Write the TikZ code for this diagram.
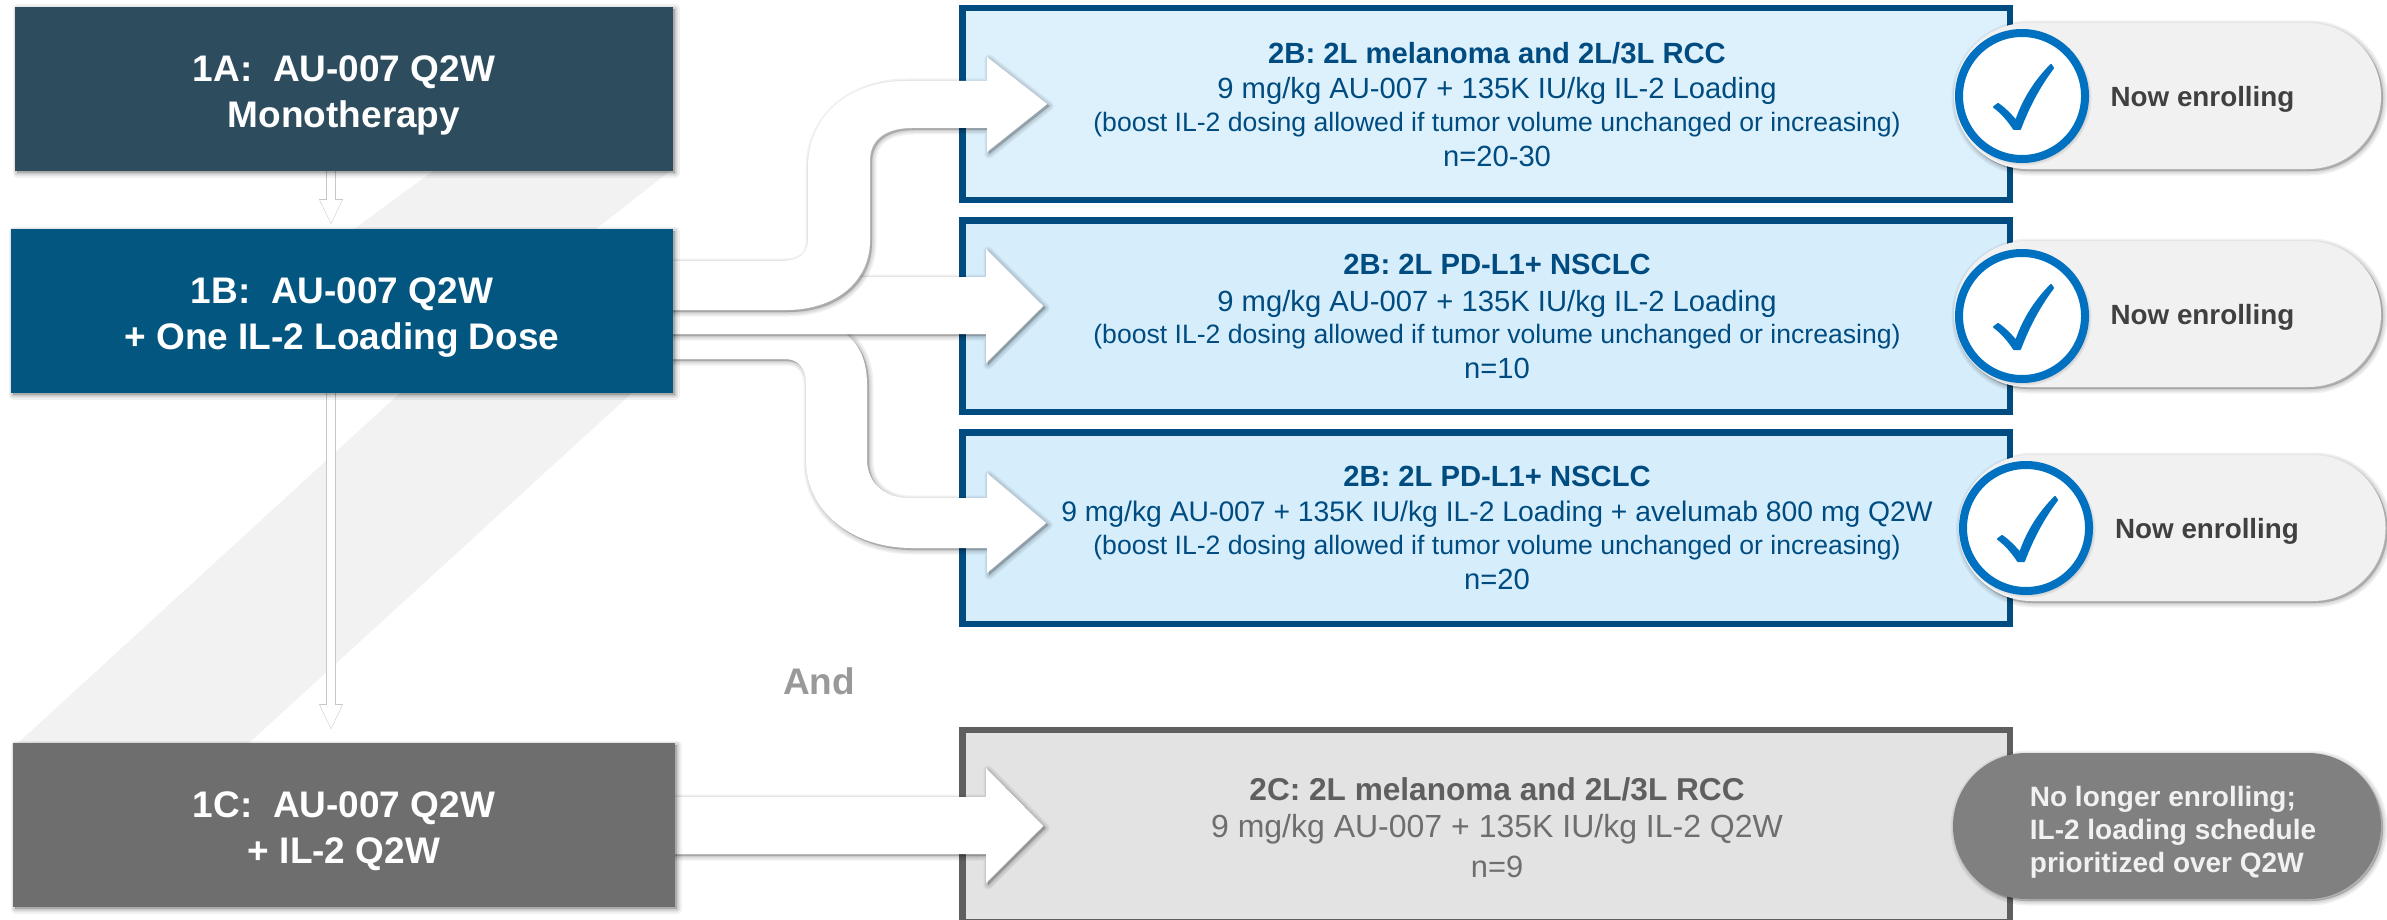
\documentclass[tikz,border=0pt]{standalone}
\usepackage{fontspec}
\setmainfont{Liberation Sans}
\usetikzlibrary{calc,arrows.meta,shapes.misc}
\definecolor{cA}{HTML}{2D4D5F}
\definecolor{cB}{HTML}{03567F}
\definecolor{cC}{HTML}{6E6E6E}
\definecolor{band}{HTML}{F2F2F2}
\definecolor{navy}{HTML}{004C80}
\definecolor{paleA}{HTML}{DDF1FD}
\definecolor{paleB}{HTML}{D6EEFC}
\definecolor{paleG}{HTML}{E3E3E3}
\definecolor{edgeG}{HTML}{5F5F5F}
\definecolor{pillG}{HTML}{F1F1F1}
\definecolor{pillD}{HTML}{808080}
\definecolor{tick}{HTML}{0070C0}
\definecolor{ink}{HTML}{404040}
\newcommand\fs[1]{\fontsize{#1}{17pt}\selectfont}
\newcommand\fl[2]{\fontsize{#1}{#2}\selectfont}
\newcommand\topfix[1]{\rule{0pt}{#1}}
\newcommand\botfix{\rule[-4pt]{0pt}{0pt}}
\tikzset{
  softlayer/.style={preaction={draw=black,fill=black,opacity=.055,line width=#1,line join=round,
     transform canvas={xshift=1pt,yshift=-1pt}}},
  softshadow/.style={softlayer=4.5pt,softlayer=3pt,softlayer=1.6pt,softlayer=.4pt},
  leftbox/.style={rectangle,minimum height=82pt,inner sep=0pt,outer sep=0pt,text=white,align=center,softshadow,
     font=\bfseries\fl{18.5}{23pt}},
  trialbox/.style={rectangle,draw=navy,line width=3.25pt,minimum width=523.75pt,inner sep=0pt,outer sep=0pt},
  greybox/.style={trialbox,draw=edgeG},
  trialtext/.style={inner sep=0pt,outer sep=0pt,align=center,text=navy,font=\fl{14.6}{17pt}},
  greytext/.style={trialtext,text=edgeG},
  blockarrow/.style={fill=white,softshadow},
  thinarrow/.style={draw=white,line width=3.6pt,-{Triangle[width=10pt,length=12pt]},shorten >=2pt},
  thinedge/.style={draw=black!22,line width=4.6pt,-{Triangle[width=11pt,length=13pt]},shorten >=1.5pt},
  pill/.style={rounded rectangle,minimum height=73pt,inner sep=0pt,outer sep=0pt,softshadow,align=left},
  okpill/.style={pill,fill=pillG,minimum width=213.5pt,text=ink,font=\bfseries\fl{13.9}{16.5pt}},
  donepill/.style={pill,fill=pillD,minimum width=214pt,text=pillG,font=\bfseries\fl{14}{16.5pt}},
  ring/.style={circle,draw=tick,fill=white,line width=4pt,minimum size=63pt,inner sep=0pt,outer sep=0pt,softshadow},
  tickmark/.style={fill=tick,draw=tick,line width=1pt,line join=round},
}
\begin{document}
\begin{tikzpicture}[x=0.5pt,y=-0.5pt]
\useasboundingbox (0,0) rectangle (2387,920);
% diagonal bands
\fill[band] (433,171) -- (670,171) -- (596,229) -- (354,229) -- cycle;
\fill[band] (400,393) -- (632,393) -- (249,743) -- (18,743) -- cycle;
% trial boxes
\node[trialbox,fill=paleA,minimum height=95.75pt] (r1) at (1486,104) {};
\node[trialbox,fill=paleB,minimum height=95.75pt] (r2) at (1486,316) {};
\node[trialbox,fill=paleB,minimum height=95.75pt] (r3) at (1486,528) {};
\node[greybox,fill=paleG,minimum height=96pt] (r4) at (1486,826) {};
\node[trialtext] (t1) at ($(r1.center)+(11,1)$) {%
  \fs{14.6}\textbf{2B: 2L melanoma and 2L/3L RCC}\\[.5pt]
  \fs{14.6}9 mg/kg AU-007 + 135K IU/kg IL-2 Loading\\[-.5pt]
  \fs{13.3}(boost IL-2 dosing allowed if tumor volume unchanged or increasing)\\[.5pt]
  \fs{14.6}n=20-30};
\node[trialtext] (t2) at ($(r2.center)+(11,0)$) {%
  \fs{14.6}\textbf{2B: 2L PD-L1+ NSCLC}\\[1.5pt]
  \fs{14.6}9 mg/kg AU-007 + 135K IU/kg IL-2 Loading\\[-1pt]
  \fs{13.3}(boost IL-2 dosing allowed if tumor volume unchanged or increasing)\\[.5pt]
  \fs{14.6}n=10};
\node[trialtext] (t3) at ($(r3.center)+(11,0)$) {%
  \fs{14.6}\textbf{2B: 2L PD-L1+ NSCLC}\\[.5pt]
  \fs{14.15}9 mg/kg AU-007 + 135K IU/kg IL-2 Loading + avelumab 800 mg Q2W\\[-.5pt]
  \fs{13.3}(boost IL-2 dosing allowed if tumor volume unchanged or increasing)\\[.5pt]
  \fs{14.6}n=20};
\node[greytext] (t4) at ($(r4.center)+(11,2)$) {%
  \fs{15.8}\textbf{2C: 2L melanoma and 2L/3L RCC}\\[1.5pt]
  \fs{16}\textcolor{cC}{9 mg/kg AU-007 + 135K IU/kg IL-2 Q2W}\\[3pt]
  \fs{15.4}\textcolor{cC}{n=9}};
\path (344,89) coordinate (pa) (342,311) coordinate (pb) (344,825) coordinate (pc);
% connector free ends
\coordinate (a1s) at (331,171);
\coordinate (b1n) at (331,229);
\coordinate (b1s) at (331,393);
\coordinate (c1n) at (331,743);
\draw[thinedge] (a1s) -- ($(b1n)+(0,-1)$);
\draw[thinarrow] (a1s) -- ($(b1n)+(0,-1)$);
\draw[thinedge] (b1s) -- ($(c1n)+(0,-10)$);
\draw[thinarrow] (b1s) -- ($(c1n)+(0,-10)$);
% block arrows, lowest first
\coordinate (tip3) at ($(r3.west)+(84,-5)$);
\coordinate (tip2) at ($(r2.west)+(81,-10)$);
\coordinate (tip1) at ($(r1.west)+(85,0)$);
\coordinate (tip4) at ($(r4.west)+(81,0)$);
\path[blockarrow] (660,334) -- (846,334) .. controls (860,345) and (867,362) .. (867,385) -- (867,460)
   .. controls (867,482) and (884,498) .. (908,498) -- (987,498) -- (987,473) -- (tip3) -- (987,573) -- (987,548)
   -- (912,548) .. controls (850,548) and (806,510) .. (806,460) -- (806,383) .. controls (806,368) and (798,359) .. (785,359)
   -- (660,359) -- cycle;
\path[blockarrow] (660,277) -- (986,277) -- (986,249) -- (tip2) -- (986,363) -- (986,334) -- (660,334) -- cycle;
\path[blockarrow] (660,261) -- (782,261) .. controls (798,261) and (808,254) .. (808,240) -- (808,167)
   .. controls (808,115) and (850,81) .. (905,81) -- (987,81) -- (987,57) -- (tip1) -- (987,152) -- (987,128) -- (912,128)
   .. controls (885,128) and (870,140) .. (870,160) -- (870,240) .. controls (870,282) and (835,310) .. (786,310)
   -- (660,310) -- cycle;
\path[blockarrow] (660,797) -- (986,797) -- (986,768) -- (tip4) -- (986,883) -- (986,854) -- (660,854) -- cycle;
% left boxes
\node[leftbox,fill=cA,minimum width=329pt] (n1a) at (pa) {\topfix{19.3pt}1A:~~AU-007 Q2W\\Monotherapy\botfix};
\node[leftbox,fill=cB,minimum width=331pt] (n1b) at (pb) {\topfix{19.3pt}1B:~~AU-007 Q2W\\+ One IL-2 Loading Dose\botfix};
\node[leftbox,fill=cC,minimum width=331pt] (n1c) at (pc) {\topfix{19.3pt}1C:~~AU-007 Q2W\\+ IL-2 Q2W\botfix};
\node[text=black!40,font=\bfseries\fontsize{18.5}{22}\selectfont] (andlabel) at (819,681) {And};
% status pills
\node[okpill] (p1) at (2167.5,96) {\topfix{13pt}\hspace*{35pt}Now enrolling};
\node[okpill] (p2) at (2167.5,314) {\topfix{13pt}\hspace*{35pt}Now enrolling};
\node[okpill] (p3) at (2172,528) {\topfix{13pt}\hspace*{35pt}Now enrolling};
\node[donepill] (p4) at (2167,826) {\topfix{16.5pt}\hspace*{6pt}No longer enrolling;\\\hspace*{6pt}IL-2 loading schedule\\\hspace*{6pt}prioritized over Q2W};
\foreach \n/\x/\y in {c1/2022/96,c2/2022/316,c3/2026/528}{
  \node[ring] (\n) at (\x,\y) {};
  \begin{scope}[shift={(\n.center)}]
    \path[tickmark] (-28,11) -- (-24,8) .. controls (-18,12) and (-12,18) .. (-6,25)
      .. controls (2,2) and (14,-16) .. (29,-31) -- (31,-28)
      .. controls (16,-8) and (6,12) .. (-2,33) -- (-8,33)
      .. controls (-14,24) and (-20,17) .. (-28,11) -- cycle;
  \end{scope}
}
\end{tikzpicture}
\end{document}
